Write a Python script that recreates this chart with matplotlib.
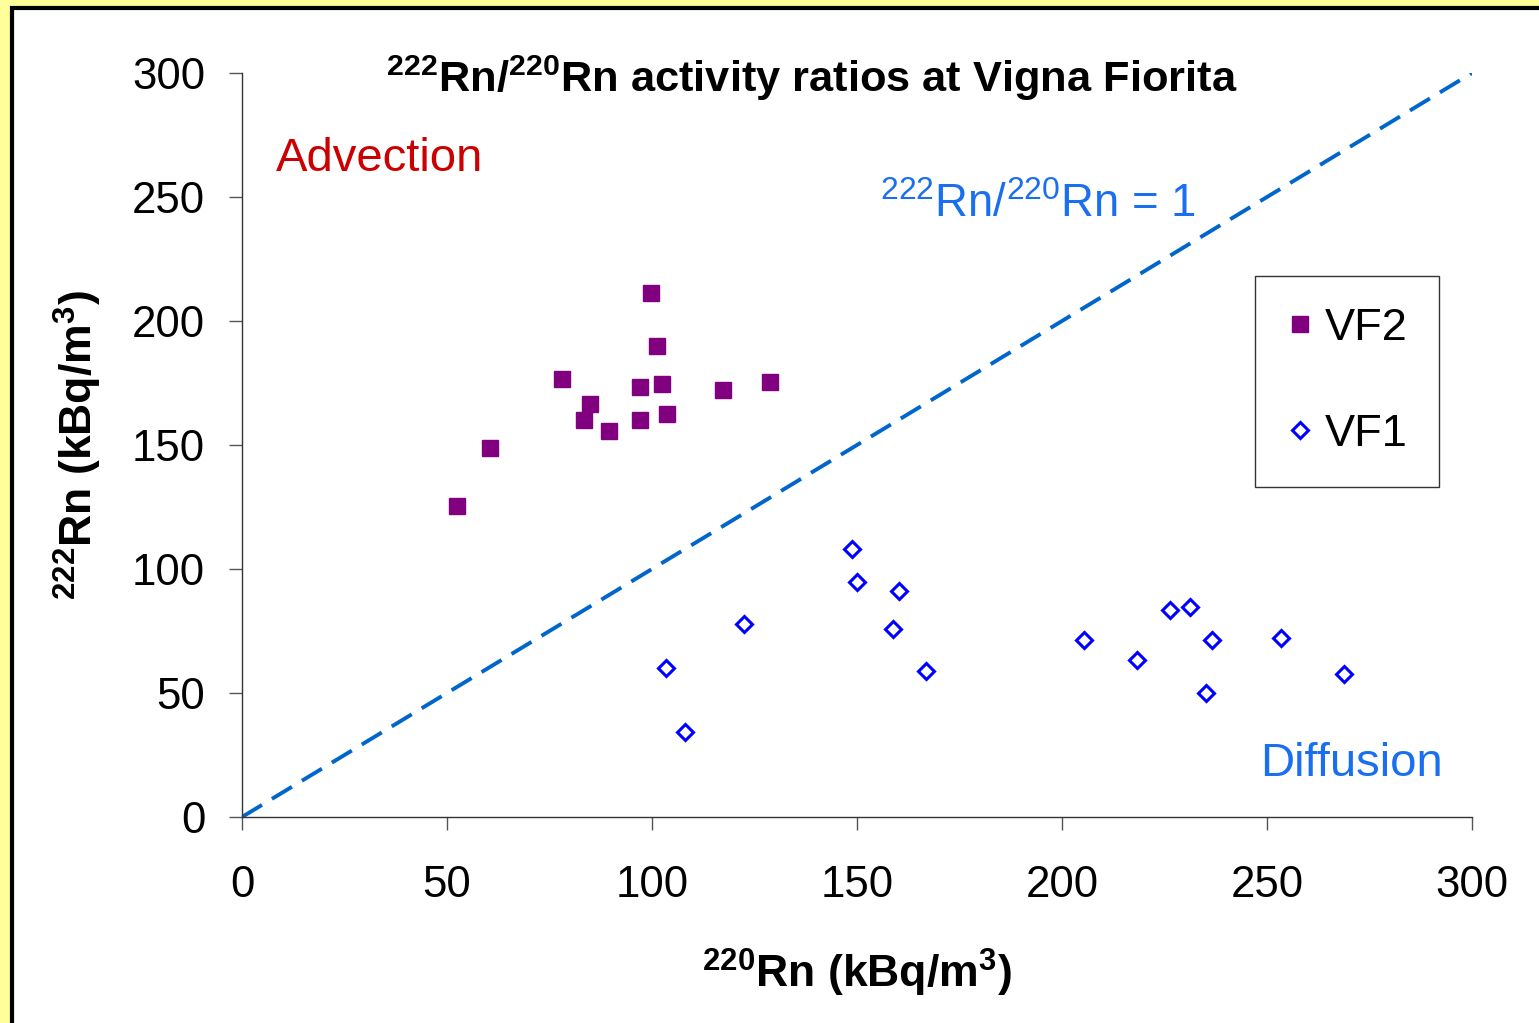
import matplotlib
matplotlib.use("Agg")
import matplotlib.pyplot as plt
from matplotlib.patches import Rectangle

plt.rcParams["font.family"] = ["Liberation Sans", "DejaVu Sans"]
plt.rcParams["mathtext.fontset"] = "custom"
plt.rcParams["mathtext.rm"] = "Liberation Sans"
plt.rcParams["mathtext.bf"] = "Liberation Sans:bold"
plt.rcParams["mathtext.default"] = "regular"

# VF2 samples (220Rn, 222Rn) in kBq/m3
vf2_rn220 = [52.4, 60.5, 78.0, 84.9, 83.4, 89.5, 97.1, 97.1, 99.8, 101.2, 102.4, 103.7, 117.3, 128.8]
vf2_rn222 = [125.4, 148.8, 176.6, 166.5, 160.1, 155.6, 173.4, 160.1, 211.3, 189.9, 174.6, 162.5, 172.2, 175.4]

# VF1 samples
vf1_rn220 = [148.7, 150.1, 160.2, 122.4, 158.9, 103.5, 166.9, 108.1,
             205.4, 218.2, 226.3, 231.1, 236.5, 235.2, 253.3, 268.9]
vf1_rn222 = [107.9, 94.6, 91.3, 77.9, 75.7, 60.0, 58.9, 34.4,
             71.2, 63.4, 83.5, 84.6, 71.2, 50.1, 72.2, 57.8]

# ratio = 1 reference line
ratio_x = [0, 300]
ratio_y = [0, 300]

ticks = [0, 50, 100, 150, 200, 250, 300]

fig = plt.figure(figsize=(15.39, 10.23), dpi=100)
fig.patch.set_facecolor("#ffff99")
# white panel with black frame, yellow band only top and left
fig.patches.append(Rectangle((12 / 1539, -0.05), 1.1, 1.05 - 8 / 1023,
                             transform=fig.transFigure, facecolor="white",
                             edgecolor="black", lw=3, zorder=-5))

ax = fig.add_axes([242 / 1539, 1 - 817 / 1023, 1230 / 1539, 744 / 1023])
ax.set_facecolor("none")

ax.plot(ratio_x, ratio_y, color="#0066cc", lw=2.8, ls=(0, (6, 3)), zorder=1)
ax.plot(vf2_rn220, vf2_rn222, ls="none", marker="s", ms=12, color="#800080",
        label="VF2", zorder=3)
ax.plot(vf1_rn220, vf1_rn222, ls="none", marker="D", ms=8.5, mew=2.2,
        markerfacecolor="white", markeredgecolor="#0000ff", label="VF1", zorder=3)

ax.set_xlim(0, 300)
ax.set_ylim(0, 300)
ax.set_xticks(ticks)
ax.set_yticks(ticks)
ax.tick_params(labelsize=31.5, length=9.5, width=1, direction="out", color="#555555")
ax.tick_params(axis="x", pad=25)
ax.tick_params(axis="y", pad=17)
for s in ["top", "right"]:
    ax.spines[s].set_visible(False)
for s in ["left", "bottom"]:
    ax.spines[s].set_linewidth(1)
    ax.spines[s].set_color("#333333")

ax.set_xlabel(r"$^{\mathbf{220}}$Rn (kBq/m$^{\mathbf{3}}$)", fontsize=32,
              fontweight="bold", va="center")
ax.xaxis.set_label_coords(0.5, -0.2095)
ax.set_ylabel(r"$^{\mathbf{222}}$Rn (kBq/m$^{\mathbf{3}}$)", fontsize=32,
              fontweight="bold", va="center", ha="center")
ax.yaxis.set_label_coords(-0.1335, 0.5)

fig.text(812 / 1539, 1 - 78 / 1023,
         r"$^{\mathbf{222}}$Rn/$^{\mathbf{220}}$Rn activity ratios at Vigna Fiorita",
         fontsize=31.2, fontweight="bold", ha="center", va="center")

ax.text(8.3, 265.5, "Advection", color="#cc0000", fontsize=34, ha="left", va="center")
ax.text(292.9, 21.5, "Diffusion", color="#1a6ff0", fontsize=34, ha="right", va="center")
ax.text(155.6, 246.8, r"$^{222}$Rn/$^{220}$Rn = 1", color="#1a6ff0", fontsize=32.8,
        ha="left", va="center")

leg = ax.legend(loc="upper right", bbox_to_anchor=(0.9732, 0.7272), fontsize=32.5,
                frameon=True, fancybox=False, edgecolor="black", labelspacing=1.45,
                borderpad=0.7, handlelength=0.6, handletextpad=0.25, borderaxespad=0)
leg.get_frame().set_linewidth(1)

fig.savefig("out.png", dpi=100, facecolor=fig.get_facecolor())
